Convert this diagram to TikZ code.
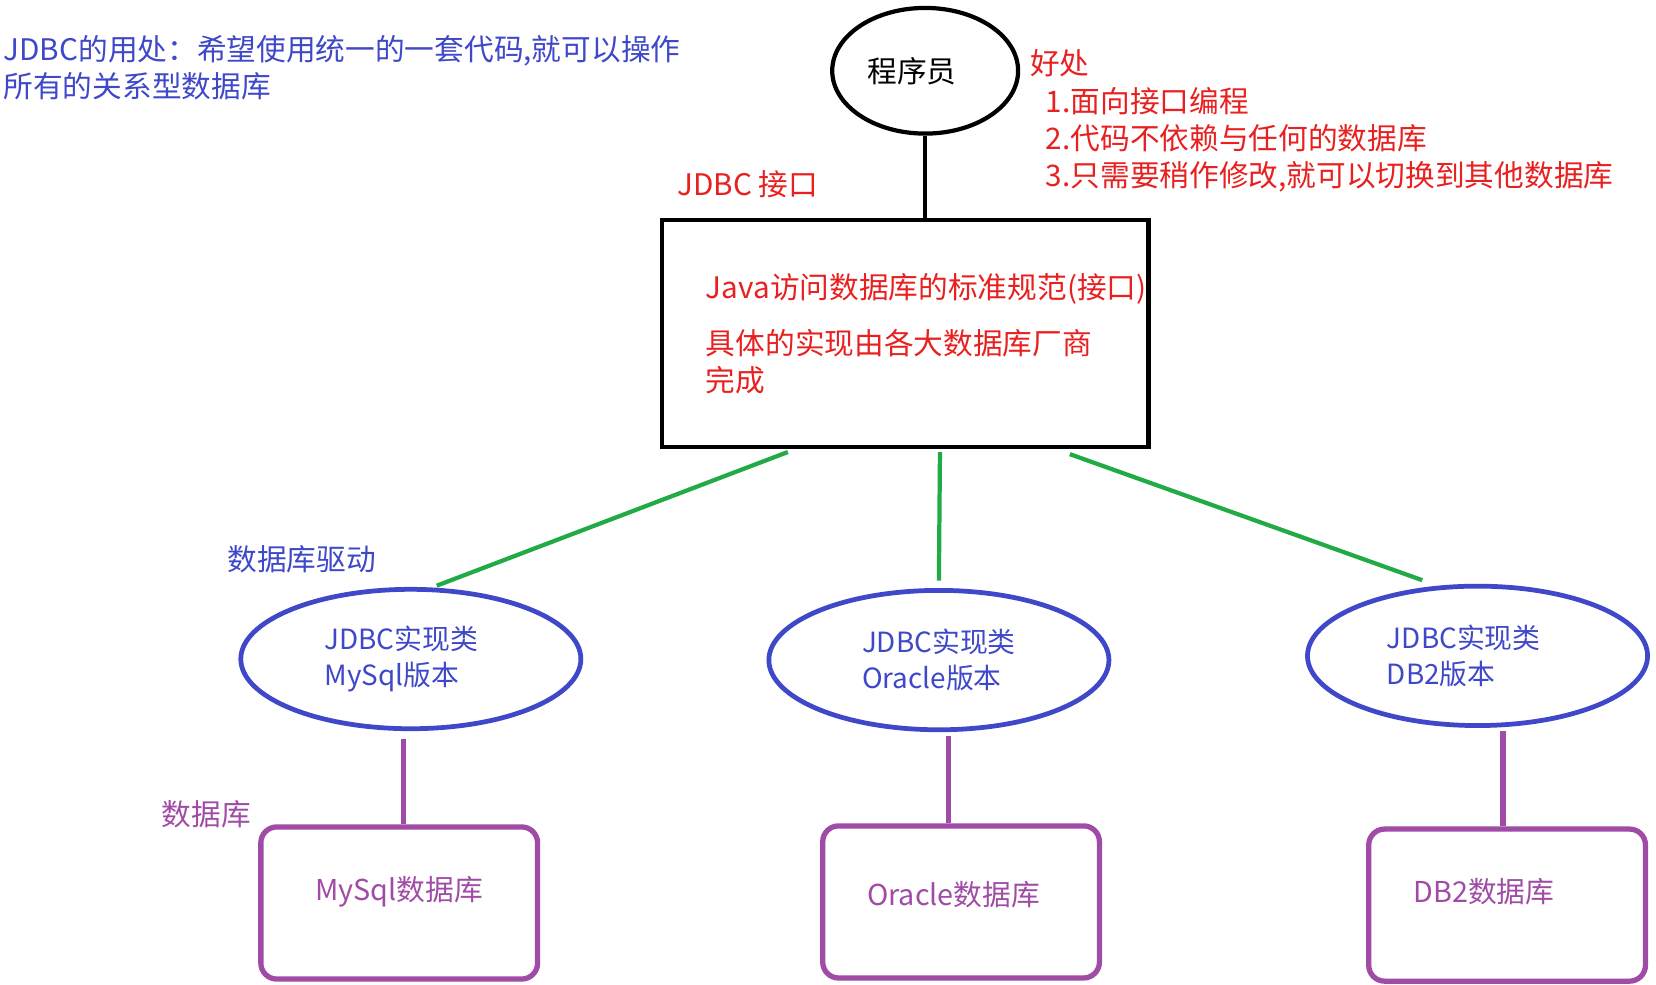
\documentclass[tikz,border=0pt]{standalone}
\usepackage{fontspec}
\setmainfont{Noto Sans CJK SC}
\usetikzlibrary{shapes.geometric}
\definecolor{jblue}{RGB}{62,72,200}
\definecolor{jgreen}{RGB}{34,170,70}
\definecolor{jpurple}{RGB}{160,76,166}
\definecolor{jred}{RGB}{232,32,32}
\tikzset{
	impl/.style={draw=jblue, line width=0.9mm, ellipse, minimum width=64.4mm, minimum height=26.4mm, text=jblue, align=left, font=\fontsize{15pt}{19.4pt}\selectfont},
	dbbox/.style={draw=jpurple, line width=1mm, rounded corners=3mm, minimum width=52.4mm, minimum height=28.8mm, text depth=5.5mm, text=jpurple, font=\fontsize{15.5pt}{19pt}\selectfont},
	drv/.style={jgreen, line width=0.8mm},
	lnk/.style={jpurple, line width=1mm}
}

\begin{document}
\begin{tikzpicture}[x=0.2mm, y=-0.2mm, font=\fontsize{16pt}{20pt}\selectfont]
			%%%%% START %%%%%
			\useasboundingbox (0, 0) rectangle (1568, 932);
			
			\node[anchor=north west, align=left, text=jblue, inner sep=0] (use) at (3, 33) {JDBC的用处：希望使用统一的一套代码,就可以操作\\所有的关系型数据库};
			
			\node[draw, ellipse, line width=0.8mm, minimum width=35.2mm, minimum height=23.8mm] (coder) at (876, 67) {程序员\hspace*{5mm}};
			\node[anchor=north west, align=left, text=jred, inner sep=0] (gain) at (975, 47) {好处\\\hspace*{3mm}1.面向接口编程\\\hspace*{3mm}2.代码不依赖与任何的数据库\\\hspace*{3mm}3.只需要稍作修改,就可以切换到其他数据库};
			
			\node[draw, line width=0.8mm, inner xsep=0, minimum width=92.2mm, minimum height=43mm, text=jred, align=left] (api) at (857, 316) {\hspace*{8mm}Java访问数据库的标准规范(接口)\\[3.6mm]\hspace*{8mm}具体的实现由各大数据库厂商\\\hspace*{8mm}完成};
			\node[anchor=west, text=jred, inner sep=0] (apilbl) at (641, 174) {JDBC 接口};
			\draw[line width=0.8mm] (coder.south) -- (coder.south |- api.north);
			
			\node[impl] (mysql) at (389, 624) {JDBC实现类\hspace*{3.6mm}\\MySql版本};
			\node[impl] (oracle) at (889, 625) {JDBC实现类\\Oracle版本};
			\node[impl] (db2) at (1399, 621) {JDBC实现类\hspace*{5.2mm}\\DB2版本};
			\node[anchor=west, text=jblue, inner sep=0] (drvlbl) at (215, 530) {数据库驱动};
			
			\coordinate (d1) at (746, 428);
			\coordinate (d2) at (890, 428);
			\coordinate (d3) at (1013, 430);
			\draw[drv] (d1) -- ([yshift=0.4mm]mysql.70);
			\draw[drv] (d2) -- ([yshift=1.4mm]oracle.north);
			\draw[drv] (d3) -- ([yshift=1.4mm]db2.129);
			
			\node[dbbox] (mysqldb) at (378, 855) {MySql数据库};
			\node[dbbox, text depth=3.2mm] (oracledb) at (910, 854) {Oracle数据库\hspace*{2.8mm}};
			\node[dbbox] (db2db) at (1427, 857) {DB2数据库\hspace*{8.8mm}};
			\node[anchor=west, text=jpurple, inner sep=0] (dblbl) at (153, 771) {数据库};
			
			\coordinate (p1) at (382, 700);
			\coordinate (p2) at (898, 697);
			\coordinate (p3) at (1423, 692);
			\draw[lnk] (p1) -- (p1 |- mysqldb.north);
			\draw[lnk] (p2) -- (p2 |- oracledb.north);
			\draw[lnk] (p3) -- (p3 |- db2db.north);
			
			%%%%% END %%%%%
\end{tikzpicture}
\end{document}
